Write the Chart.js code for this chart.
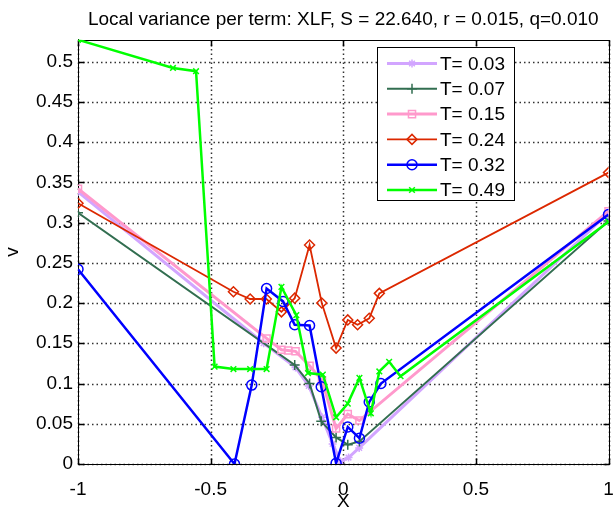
<!DOCTYPE html>
<html>
<head>
<meta charset="utf-8">
<script src="https://cdn.jsdelivr.net/npm/chart.js@4.4.0/dist/chart.umd.min.js"></script>
<style>
  html, body { margin: 0; padding: 0; background: #fff; }
</style>
</head>
<body>
<canvas id="chart" width="615" height="510"></canvas>
<script>
// series labels
const termLabels = ["T= 0.03", "T= 0.07", "T= 0.15", "T= 0.24", "T= 0.32", "T= 0.49"];

// values (x = log-moneyness, v = local variance)
const xT003 = [-1, -0.30, -0.18, -0.13, -0.08, -0.04, -0.01, 0.02, 0.06, 1];
const vT003 = [0.338, 0.150, 0.120, 0.097, 0.058, 0.025, 0.003, 0.008, 0.020, 0.312];

const xT007 = [-1, -0.183, -0.127, -0.083, -0.027, 0.017, 0.061, 1];
const vT007 = [0.312, 0.123, 0.100, 0.053, 0.033, 0.024, 0.028, 0.302];

const xT015 = [-1, -0.289, -0.233, -0.208, -0.180, -0.127, -0.080, -0.027, 0.017, 0.061, 1];
const vT015 = [0.342, 0.156, 0.142, 0.141, 0.140, 0.122, 0.104, 0.044, 0.062, 0.054, 0.314];

const xT024 = [-1, -0.414, -0.351, -0.290, -0.233, -0.183, -0.127, -0.081, -0.027, 0.017, 0.054, 0.098, 0.136, 1];
const vT024 = [0.324, 0.214, 0.205, 0.205, 0.189, 0.206, 0.272, 0.200, 0.144, 0.179, 0.173, 0.181, 0.212, 0.362];

const xT032 = [-1, -0.410, -0.345, -0.289, -0.227, -0.183, -0.127, -0.083, -0.027, 0.017, 0.061, 0.098, 0.142, 1];
const vT032 = [0.242, 0.000, 0.098, 0.218, 0.202, 0.173, 0.172, 0.096, 0.001, 0.046, 0.032, 0.077, 0.100, 0.310];

const xT049 = [-1, -0.642, -0.555, -0.485, -0.414, -0.351, -0.289, -0.233, -0.177, -0.133, -0.077, -0.027, 0.017, 0.061, 0.104, 0.136, 0.173, 0.216, 1];
const vT049 = [0.527, 0.492, 0.488, 0.121, 0.118, 0.118, 0.118, 0.220, 0.185, 0.113, 0.111, 0.058, 0.075, 0.107, 0.063, 0.115, 0.127, 0.109, 0.301];

const xTicks = [-1, -0.5, 0, 0.5, 1];

const allX = [xT003, xT007, xT015, xT024, xT032, xT049];
const allV = [vT003, vT007, vT015, vT024, vT032, vT049];

const colors = ["rgb(210,165,255)", "rgb(50,110,80)", "rgb(255,153,204)", "rgb(220,40,0)", "rgb(0,0,255)", "rgb(0,255,0)"];
const widths = [3, 2, 3, 1.8, 2.5, 2.5];
const markers = ["star", "cross", "rect", "rectRot", "circle", "crossRot"];
const radii = [4, 5, 5, 5, 5, 4];

const fmt = v => String(+Number(v).toFixed(2));

const datasets = termLabels.map((label, i) => ({
  label: label,
  data: allX[i].map((x, j) => ({ x: x, y: allV[i][j] })),
  borderColor: colors[i],
  borderWidth: widths[i],
  pointStyle: markers[i],
  pointRadius: radii[i],
  pointBorderWidth: 1.5,
  pointBorderColor: colors[i],
  pointBackgroundColor: "rgba(0,0,0,0)",
  tension: 0,
  order: termLabels.length - i
}));

// dotted grid, box and inward tick marks like matlab axes
const frame = {
  id: "frame",
  beforeDatasetsDraw(chart) {
    const { ctx, chartArea: a, scales } = chart;
    const L = Math.round(a.left) + 0.5, R = Math.round(a.right) + 0.5;
    const T = Math.round(a.top) + 0.5, B = Math.round(a.bottom) + 0.5;
    ctx.save();

    // grid
    ctx.strokeStyle = "#333";
    ctx.lineWidth = 1.5;
    ctx.setLineDash([1.5, 3]);
    ctx.beginPath();
    scales.x.ticks.forEach(t => {
      const px = Math.round(scales.x.getPixelForValue(t.value)) + 0.5;
      ctx.moveTo(px, B); ctx.lineTo(px, T);
    });
    scales.y.ticks.forEach(t => {
      const py = Math.round(scales.y.getPixelForValue(t.value)) + 0.5;
      ctx.moveTo(L, py); ctx.lineTo(R, py);
    });
    ctx.stroke();
    ctx.setLineDash([]);

    ctx.strokeStyle = "#000";
    ctx.lineWidth = 1;
    ctx.strokeRect(L, T, R - L, B - T);
    ctx.lineWidth = 1.5;
    ctx.beginPath();
    scales.x.ticks.forEach(t => {
      const px = Math.round(scales.x.getPixelForValue(t.value)) + 0.5;
      ctx.moveTo(px, B); ctx.lineTo(px, B - 6);
      ctx.moveTo(px, T); ctx.lineTo(px, T + 6);
    });
    scales.y.ticks.forEach(t => {
      const py = Math.round(scales.y.getPixelForValue(t.value)) + 0.5;
      ctx.moveTo(L, py); ctx.lineTo(L + 6, py);
      ctx.moveTo(R, py); ctx.lineTo(R - 6, py);
    });
    ctx.stroke();
    ctx.restore();
  }
};

// legend box in the upper right
const legendBox = {
  id: "legendBox",
  afterDatasetsDraw(chart) {
    const ctx = chart.ctx;
    const left = 377, top = 47, w = 137, h = 153;
    ctx.save();
    ctx.fillStyle = "#fff";
    ctx.fillRect(left, top, w, h);
    ctx.strokeStyle = "#000";
    ctx.lineWidth = 1;
    ctx.strokeRect(left + 0.5, top + 0.5, w, h);
    chart.data.datasets.forEach((ds, i) => {
      const y = top + 16.5 + i * 25.3;
      ctx.strokeStyle = ds.borderColor;
      ctx.lineWidth = ds.borderWidth;
      ctx.beginPath();
      ctx.moveTo(left + 10, y);
      ctx.lineTo(left + 60, y);
      ctx.stroke();
      ctx.lineWidth = ds.pointBorderWidth;
      ctx.fillStyle = "rgba(0,0,0,0)";
      if (Chart.helpers && Chart.helpers.drawPoint) {
        Chart.helpers.drawPoint(ctx, {
          pointStyle: ds.pointStyle, radius: ds.pointRadius, rotation: 0, borderWidth: ds.pointBorderWidth
        }, left + 35, y);
      }
      ctx.fillStyle = "#000";
      ctx.font = "19px 'Liberation Sans', Arial, sans-serif";
      ctx.textBaseline = "middle";
      ctx.textAlign = "left";
      ctx.fillText(ds.label, left + 63, y + 1);
    });
    ctx.restore();
  }
};

const tickFont = { family: "'Liberation Sans', Arial, sans-serif", size: 19 };

new Chart(document.getElementById("chart"), {
  type: "line",
  data: { datasets: datasets },
  plugins: [frame, legendBox],
  options: {
    responsive: false,
    animation: false,
    layout: { padding: { left: 0, right: 0, top: 0, bottom: 0 } },
    plugins: {
      legend: { display: false },
      tooltip: { enabled: false },
      title: {
        display: true,
        text: "Local variance per term: XLF, S = 22.640, r = 0.015, q=0.010",
        color: "#000",
        font: { family: "'Liberation Sans', Arial, sans-serif", size: 19, weight: "normal" },
        padding: { top: 8, bottom: 9 },
        fullSize: false
      }
    },
    scales: {
      x: {
        type: "linear",
        min: -1,
        max: 1,
        afterBuildTicks: s => { s.ticks = xTicks.map(v => ({ value: v })); },
        afterFit: s => { s.height = 46; s.paddingRight = 3; s.paddingLeft = 0; },
        ticks: { color: "#000", font: tickFont, padding: 14, maxRotation: 0, callback: fmt },
        grid: { display: false, drawTicks: false },
        border: { color: "#000", width: 1 },
        title: { display: true, text: "X", color: "#000", font: tickFont, padding: { top: 0, bottom: -3 } }
      },
      y: {
        min: 0,
        max: 0.527,
        afterFit: s => { s.width = 78; },
        ticks: { color: "#000", font: tickFont, padding: 5, stepSize: 0.05, includeBounds: false, callback: fmt },
        grid: { display: false, drawTicks: false },
        border: { color: "#000", width: 1 },
        title: { display: true, text: "v", color: "#000", font: tickFont, padding: { top: 1, bottom: 1 } }
      }
    }
  }
});
</script>
</body>
</html>
